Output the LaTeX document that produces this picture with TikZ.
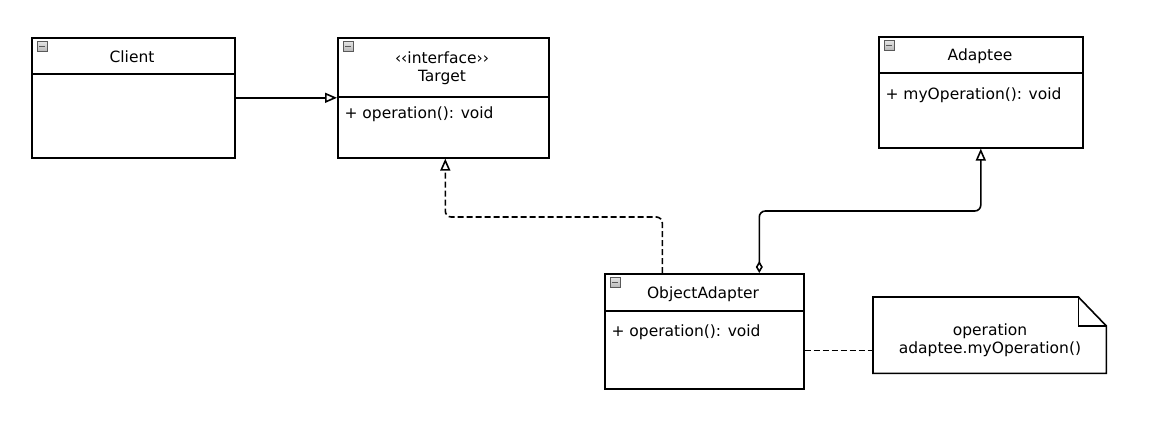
\documentclass[tikz,border=0pt]{standalone}
\usepackage{fontspec}
\setmainfont{DejaVu Sans}
\usepackage{tikz}
\usetikzlibrary{arrows.meta}

\tikzset{
	classbox/.style={shape=rectangle, draw, line width=1.6pt, anchor=north west, inner sep=0pt},
	minusicon/.style={shape=rectangle, draw=gray!70!black, top color=gray!20, bottom color=gray!55, minimum size=10pt, inner sep=0pt, anchor=north west,
		path picture={\draw[line width=1.2pt] ([xshift=2pt]path picture bounding box.west) -- ([xshift=-2pt]path picture bounding box.east);}},
	member/.style={anchor=west, font=\fontsize{15.5}{18.5}\selectfont},
	title/.style={font=\fontsize{15.5}{18.5}\selectfont, align=center},
	tri/.style={-{Triangle[open, length=12pt, width=10pt]}, line width=1.6pt},
	dashline/.style={dash pattern={on 6pt off 3pt}},
}

\begin{document}
\begin{tikzpicture}[x=1pt, y=-1pt]
					\useasboundingbox[fill=white] (0,0) rectangle (1154,426);
					% Classes:
					\node[classbox, minimum width=203pt, minimum height=120pt](client) at (31,37){};
					\draw[line width=1.6pt] ([yshift=-37pt]client.north west) -- ([yshift=-37pt]client.north east);
					\node[minusicon] at ([xshift=6pt, yshift=-4pt]client.north west){};
					\node[title](clientname) at (132,57){Client};
					\node[classbox, minimum width=211pt, minimum height=120pt](target) at (337,37){};
					\draw[line width=1.6pt] ([yshift=-60pt]target.north west) -- ([yshift=-60pt]target.north east);
					\node[minusicon] at ([xshift=6pt, yshift=-4pt]target.north west){};
					\node[title](targetname) at (442,68){‹‹interface››\\Target};
					\node[member](targetop) at ([xshift=4pt, yshift=-77pt]target.north west){+ operation(): void};
					\node[classbox, minimum width=204pt, minimum height=111pt](adaptee) at (878,36){};
					\draw[line width=1.6pt] ([yshift=-37pt]adaptee.north west) -- ([yshift=-37pt]adaptee.north east);
					\node[minusicon] at ([xshift=6pt, yshift=-4pt]adaptee.north west){};
					\node[title](adapteename) at (980,56){Adaptee};
					\node[member](adapteeop) at ([xshift=4pt, yshift=-59pt]adaptee.north west){+ myOperation(): void};
					\node[classbox, minimum width=199pt, minimum height=115pt](oa) at (604,273){};
					\draw[line width=1.6pt] ([yshift=-38pt]oa.north west) -- ([yshift=-38pt]oa.north east);
					\node[minusicon] at ([xshift=6pt, yshift=-4pt]oa.north west){};
					\node[title](oaname) at (703,294){ObjectAdapter};
					\node[member](oaop) at ([xshift=4pt, yshift=-59pt]oa.north west){+ operation(): void};
					% Note:
					\node[shape=rectangle, minimum width=233pt, minimum height=76pt, anchor=north west, inner sep=0pt](note) at (873,297){};
					\draw[line width=1.6pt] (note.north west) -- ([xshift=-28pt]note.north east) -- ([yshift=-29pt]note.north east) -- (note.south east) -- (note.south west) -- cycle;
					\draw[line width=1.6pt] ([xshift=-28pt]note.north east) -- ([xshift=-28pt, yshift=-29pt]note.north east) -- ([yshift=-29pt]note.north east);
					\node[title](notetext) at (990,340){operation\\adaptee.myOperation()};
					% Connectors:
					\draw[tri] (client.east) -- (target.west);
					\draw[tri, dashline, rounded corners=6pt] ([xshift=-42pt]oa.north) -- ++(0,-56) -| ([xshift=2pt]target.south);
					\draw[{Diamond[open, length=12pt, width=7pt]}-{Triangle[open, length=12pt, width=10pt]}, line width=1.6pt, rounded corners=6pt] ([xshift=55pt]oa.north) -- ++(0,-62) -| (adaptee.south);
					\draw[line width=1.6pt, dashline] ([yshift=-19pt]oa.east) coordinate (notelink) -- (notelink -| note.west);
				\end{tikzpicture}
\end{document}
